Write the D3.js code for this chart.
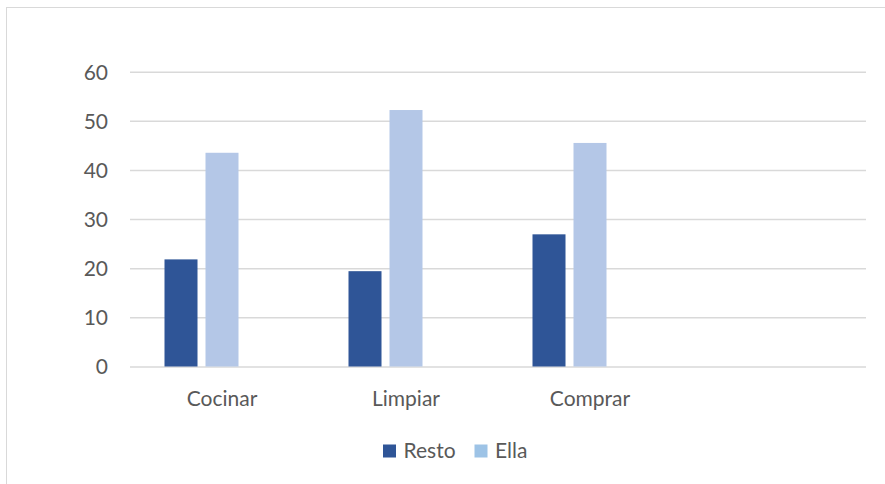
<!DOCTYPE html>
<html><head><meta charset="utf-8">
<script src="https://cdn.jsdelivr.net/npm/d3@7"></script>
<style>html,body{margin:0;padding:0;background:#fff}svg{display:block}</style>
</head><body>
<svg id="chart" width="885" height="484"></svg>
<script>
const categories = ["Cocinar", "Limpiar", "Comprar", ""];
const seriesNames = ["Resto", "Ella"];
const resto = [21.8, 19.4, 26.9, null];
const ella = [43.5, 52.2, 45.5, null];
const yTicks = [0, 10, 20, 30, 40, 50, 60];
const barColors = ["#2F5597", "#B4C7E7"];
const legendColors = ["#2F5597", "#9DC3E6"];

const svg = d3.select("#chart");
const W = 885, H = 484;
const font = "Lato, 'Open Sans', sans-serif";
const textColor = "#595959";

// chart border
svg.append("rect").attr("x", 6.5).attr("y", 7.5).attr("width", W).attr("height", H)
  .attr("fill", "#fff").attr("stroke", "#D9D9D9").attr("stroke-width", 1);

const plot = {left: 130, right: 866, top: 71.7, bottom: 366.5};
const y = d3.scaleLinear().domain([0, 60]).range([plot.bottom, plot.top]);
const x = d3.scaleBand().domain(categories).range([plot.left, plot.right])
  .paddingInner(0.375).paddingOuter(0.1875);
// three slots per category (third slot empty as in the source)
const xs = d3.scaleBand().domain(["Resto", "Ella", "_"]).range([0, x.bandwidth()])
  .paddingInner(0.195).paddingOuter(0);

// gridlines via axis
const yAxis = d3.axisLeft(y).tickValues(yTicks).tickSize(-(plot.right - plot.left)).tickFormat(d3.format("d"));
const gy = svg.append("g").attr("transform", `translate(${plot.left},0)`).call(yAxis);
gy.select(".domain").remove();
gy.selectAll(".tick line").attr("stroke", "#D9D9D9").attr("stroke-width", 1.5);
gy.selectAll(".tick text").attr("x", -22).attr("dy", "0.35em")
  .attr("fill", textColor).attr("font-family", font).attr("font-size", 21).attr("text-anchor", "end");

// bars
const data = [resto, ella];
seriesNames.forEach((s, si) => {
  svg.append("g").selectAll("rect")
    .data(categories.map((c, i) => ({c, v: data[si][i]})).filter(d => d.v != null))
    .join("rect")
    .attr("x", d => x(d.c) + xs(s))
    .attr("width", xs.bandwidth())
    .attr("y", d => y(d.v))
    .attr("height", d => y(0) - y(d.v))
    .attr("fill", barColors[si]);
});

// x axis labels
const xAxis = d3.axisBottom(x).tickSize(0).tickPadding(0);
const gx = svg.append("g").attr("transform", `translate(0,${plot.bottom})`).call(xAxis);
gx.select(".domain").remove();
gx.selectAll(".tick text").attr("y", 39).attr("dy", null)
  .attr("fill", textColor).attr("font-family", font).attr("font-size", 21);

// legend
const legend = svg.append("g");
const legendX = [383, 474.5];
seriesNames.forEach((s, i) => {
  legend.append("rect").attr("x", legendX[i]).attr("y", 444.5).attr("width", 13).attr("height", 13)
    .attr("fill", legendColors[i]);
  legend.append("text").attr("x", legendX[i] + 20.5).attr("y", 457.5).text(s)
    .attr("fill", textColor).attr("font-family", font).attr("font-size", 21);
});
</script>
</body></html>
